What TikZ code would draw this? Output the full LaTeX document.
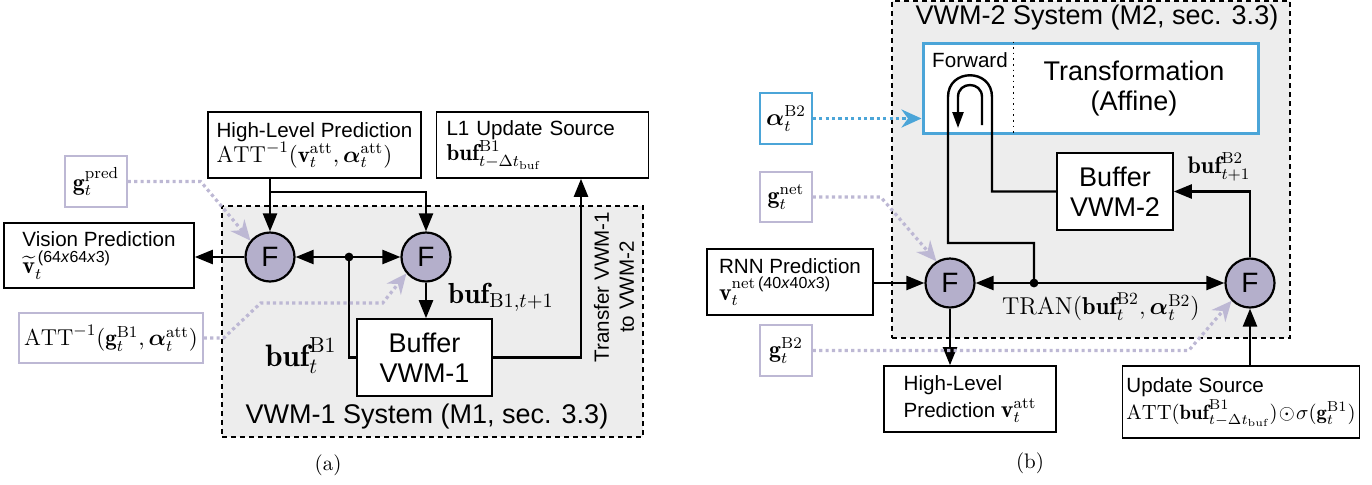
\RequirePackage{fix-cm}
\documentclass[tikz,border=0pt]{standalone}
\usepackage{amsmath}
\usepackage{amssymb}
\usepackage{fontspec}
\setsansfont{Liberation Sans}
\usetikzlibrary{arrows.meta}
\definecolor{sysgray}{HTML}{EDEDED}
\definecolor{fusefill}{HTML}{B4AFCB}
\definecolor{gline}{HTML}{BDB8D4}
\definecolor{aline}{HTML}{4BA5D8}
\tikzset{
  system/.style={draw=black, fill=sysgray, line width=0.9pt, dash pattern=on 2.5pt off 2pt},
  block/.style={draw=black, fill=white, line width=0.8pt, inner sep=2pt, align=left},
  gbox/.style={draw=gline, fill=white, line width=0.7pt, inner sep=1pt},
  abox/.style={draw=aline, fill=white, line width=0.7pt, inner sep=1pt},
  fuse/.style={circle, draw=black, fill=fusefill, line width=1.1pt, minimum size=24.5pt,
    inner sep=0pt, font=\fontsize{14}{14}\sffamily\selectfont},
  small text/.style={font=\fontsize{10.3}{12.5}\sffamily\selectfont},
  big text/.style={font=\fontsize{13.5}{15}\sffamily\selectfont},
  math text/.style={font=\fontsize{11.5}{13}\selectfont},
  flow/.style={line width=1.2pt, -{Triangle[length=9pt,width=7pt]}},
  link/.style={line width=1.2pt},
  gflow/.style={draw=gline, line width=1.6pt, dash pattern=on 1.6pt off 1.6pt,
    -{Stealth[length=10pt,width=9pt]}},
  aflow/.style={draw=aline, line width=1.6pt, dash pattern=on 1.6pt off 1.6pt,
    -{Stealth[length=10pt,width=9pt]}},
  divider/.style={line width=0.8pt, dotted},
}
\newcommand{\dimsub}[3]{\text{\sffamily(#1\textit{x}#2\textit{x}#3)}}
\newcommand{\mathsz}[1]{\fontsize{#1}{14}\selectfont}
\begin{document}
\begin{tikzpicture}[x=0.5pt, y=-0.5pt]
\useasboundingbox (0,0) rectangle (1372,484);

% (a) VWM-1
\node[system, minimum width=210.5pt, minimum height=115.5pt] (sysA) at (432.5,321.5) {};
\node[big text] (sysAlabel) at (427,417) {VWM-1 System (M1, sec. 3.3)};
\node[block, small text, minimum width=106.5pt, minimum height=33pt] (hlA) at (314.5,145)
  {High-Level Prediction\\ {\mathsz{11.5}$\mathrm{ATT}^{-1}(\mathbf{v}_t^{\mathrm{att}},\boldsymbol{\alpha}_t^{\mathrm{att}})$}};
\node[block, small text, text width=96pt, inner xsep=5pt, minimum height=33pt] (l1) at (542.5,145)
  {L1 Update Source\\ {\mathsz{11.5}$\mathbf{buf}^{\mathrm{B1}}_{t-\Delta t_{\mathrm{buf}}}$}};
\node[gbox, font=\mathsz{12}, minimum width=31pt, minimum height=25.5pt] (gpred) at (96,181.5)
  {$\mathbf{g}_t^{\mathrm{pred}}$};
\node[block, small text, minimum width=95pt, minimum height=32.5pt] (vis) at (99,255.5)
  {Vision Prediction\\[1pt] {\mathsz{12}$\widetilde{\mathbf{v}}_t^{\,\dimsub{64}{64}{3}}$}};
\node[gbox, math text, minimum width=92pt, minimum height=25pt] (attg) at (111,338)
  {$\mathrm{ATT}^{-1}(\mathbf{g}_t^{\mathrm{B1}},\boldsymbol{\alpha}_t^{\mathrm{att}})$};
\node[fuse] (f1) at (270,257) {F};
\node[fuse] (f2) at (426,257) {F};
\coordinate (j1) at (349,257);
\coordinate (brA) at (270,192);
\node[block, big text, align=center, minimum width=67.5pt, minimum height=38.5pt] (bufA) at (424.5,357.5) {Buffer\\VWM-1};
\node[font=\mathsz{14.5}] (bufnextA) at (501,297) {$\mathbf{buf}_{\mathrm{B1},t+1}$};
\node[font=\mathsz{15.5}] (bufcurA) at (301,356) {$\mathbf{buf}_t^{\mathrm{B1}}$};
\node[small text, rotate=90, align=center] (transfer) at (614,287) {Transfer VWM-1\\to VWM-2};

\draw[flow] (f1 |- hlA.south) -- (f1.north);
\draw[flow] (brA) -| (f2.north);
\draw[flow] (j1) -- (f1.east);
\draw[flow] (j1) -- (f2.west);
\fill (j1) circle[radius=2.2pt];
\draw[flow] (f1.west) -- (f1.west -| vis.east);
\draw[link] (j1) |- (bufA.west);
\draw[flow] (f2.south) -- (f2.south |- bufA.north);
\draw[flow] (bufA.east) -| ([xshift=19.25pt]l1.south);
\draw[gflow] (gpred.east) -- ++(73,0) -- (f1.140);
\draw[gflow] (attg.east) -- ++(20,0) -- ++(37,-35) -- ++(122,0) -- (f2.220);

% (b) VWM-2
\node[system, minimum width=199pt, minimum height=168.5pt] (sysB) at (1091,169.5) {};
\node[big text] (sysBlabel) at (1097,18) {VWM-2 System (M2, sec. 3.3)};
\node[draw=aline, line width=1.5pt, fill=white, minimum width=167.5pt, minimum height=45pt] (trans) at (1090.5,88) {};
\draw[divider] ([xshift=46pt]trans.north west) -- ([xshift=46pt]trans.south west);
\node[small text] (fwd) at (970,60) {Forward};
\node[big text, align=center] (affine) at (1134,89) {Transformation\\(Affine)};
\node[block, big text, align=center, minimum width=58pt, minimum height=38.5pt] (bufB) at (1115,191.5) {Buffer\\VWM-2};
\node[fuse] (f3) at (950,283) {F};
\node[fuse] (f4) at (1250,283) {F};
\coordinate (j2) at (1034,283);
\node[block, small text, minimum width=83pt, minimum height=33pt] (rnn) at (790,282)
  {RNN Prediction\\[1pt] {\mathsz{12}$\mathbf{v}_t^{\mathrm{net}\,\dimsub{40}{40}{3}}$}};
\node[abox, font=\mathsz{12}, minimum width=26pt, minimum height=25.5pt] (alpha) at (786,118.5) {$\boldsymbol{\alpha}_t^{\mathrm{B2}}$};
\node[gbox, font=\mathsz{12}, minimum width=26pt, minimum height=25pt] (gnet) at (786,197) {$\mathbf{g}_t^{\mathrm{net}}$};
\node[gbox, font=\mathsz{12}, minimum width=26pt, minimum height=25.5pt] (gB2) at (786,350.5) {$\mathbf{g}_t^{\mathrm{B2}}$};
\node[block, small text, minimum width=86pt, minimum height=33pt] (hlB) at (970,399)
  {High-Level\\[1pt]Prediction {\mathsz{12}$\mathbf{v}_t^{\mathrm{att}}$}};
\node[block, small text, minimum width=114pt, minimum height=36pt] (upd) at (1241,402)
  {Update Source\\[1pt] {\mathsz{10.3}$\mathrm{ATT}(\mathbf{buf}^{\mathrm{B1}}_{t-\Delta t_{\mathrm{buf}}})\!\odot\!\sigma(\mathbf{g}_t^{\mathrm{B1}})$}};
\node[font=\mathsz{12}] (bufnextB) at (1219,167) {$\mathbf{buf}_{t+1}^{\mathrm{B2}}$};
\node[font=\mathsz{12.2}] (tran) at (1101,307) {$\mathrm{TRAN}(\mathbf{buf}_t^{\mathrm{B2}},\boldsymbol{\alpha}_t^{\mathrm{B2}})$};
\coordinate (lpR) at (992,97);
\coordinate (lpL) at (948,97);
\coordinate (lpB) at (948,243);

\draw[flow] (rnn.east |- f3) -- (f3.west);
\draw[flow] (j2) -- (f3.east);
\draw[flow] (j2) -- (f4.west);
\fill (j2) circle[radius=2.2pt];
\draw[flow] (f3.south) -- (f3.south |- hlB.north);
\draw[flow] (f4 |- upd.north) -- (f4.south);
\draw[flow] (f4.north) |- (bufB.east);
\draw[link] (bufB.west) -| (lpR) .. controls (992,68) and (948,68) .. (lpL) -- (lpB) -| (j2);
% forward loop icon
\draw[line width=1.2pt, -{Triangle[length=8pt,width=5.5pt]}] (982,125) -- (982,97)
  .. controls (982,81) and (958,81) .. (958,97) -- (958,128);
\draw[aflow] (alpha.east) -- (alpha.east -| trans.west);
\draw[gflow] (gnet.east) -- ++(68,0) -- (f3.122);
\draw[gflow] (gB2.east) -- ++(376,0) -- (f4.224);

% captions
\node[font=\mathsz{10.5}] (capA) at (328,465) {(a)};
\node[font=\mathsz{10.5}] (capB) at (1030,463) {(b)};
\end{tikzpicture}
\end{document}
